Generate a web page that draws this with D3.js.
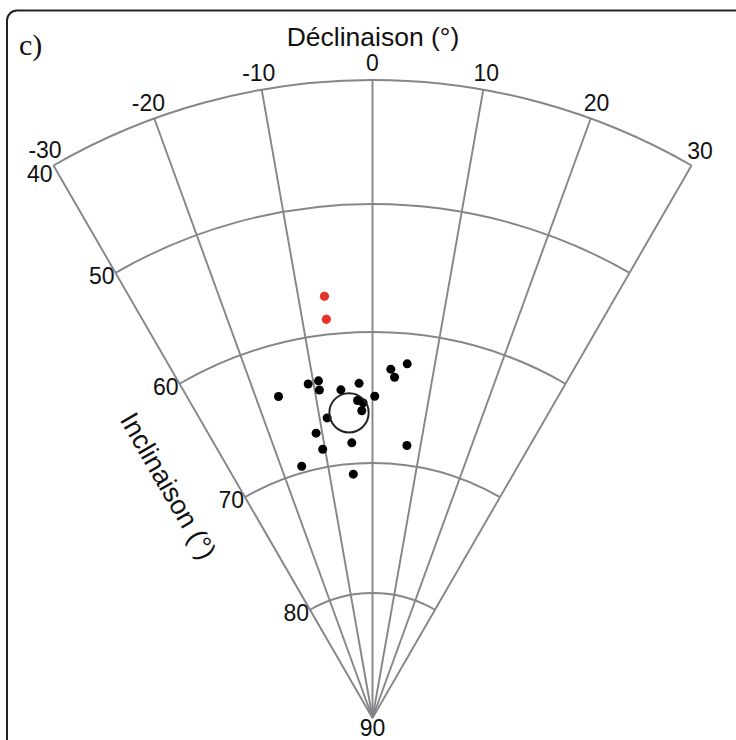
<!DOCTYPE html>
<html>
<head>
<meta charset="utf-8">
<script src="https://cdn.jsdelivr.net/npm/d3@7"></script>
<style>
  html, body { margin: 0; padding: 0; background: #fff; }
  svg { display: block; }
  text { font-family: "Liberation Sans", Arial, sans-serif; fill: #111; }
</style>
</head>
<body>
<svg id="chart" width="736" height="740"></svg>
<script>
// ---- data ----
const declinationTicks = [-30, -20, -10, 0, 10, 20, 30];
const inclinationTicks = [40, 50, 60, 70, 80, 90];
const panelLabel = "c)";
const decTitle = "Déclinaison (°)";
const incTitle = "Inclinaison (°)";

// black points: declination, inclination
const blackDec = [-16.3, -10.9, -9.1, -9.2, -5.5, -2.3, 0.4, 3.0, 3.7, 5.6, -2.7, -1.7, -2.0, -8.6, -11.2, -10.5, -4.3, -15.7, -4.5, 7.2];
const blackInc = [63.9, 63.5, 63.4, 64.1, 64.3, 63.9, 64.9, 62.8, 63.4, 62.3, 65.2, 65.4, 66.0, 66.3, 67.3, 68.6, 68.4, 69.5, 70.8, 68.5];
// red points
const redDec = [-6.5, -6.6];
const redInc = [57.0, 58.8];
// mean direction and alpha95 cone
const meanDec = [-4.4];
const meanInc = [66.1];
const meanA95 = [1.5];

// ---- layout ----
const svg = d3.select("#chart");
const cx = 372.5, cy = 718;
const rScale = d3.scaleLinear()
  .domain([40, 50, 60, 70, 80, 90])
  .range([638, 514, 386, 255, 125, 0]);
const rad = d => d * Math.PI / 180;
const px = (dec, inc) => cx + rScale(inc) * Math.sin(rad(dec));
const py = (dec, inc) => cy - rScale(inc) * Math.cos(rad(dec));

const gridColor = "#85858a";
const decMin = d3.min(declinationTicks), decMax = d3.max(declinationTicks);
const incMin = d3.min(inclinationTicks);

// frame
svg.append("rect")
  .attr("x", 7).attr("y", 10.5)
  .attr("width", 760).attr("height", 760)
  .attr("rx", 10).attr("ry", 10)
  .attr("fill", "none").attr("stroke", "#222").attr("stroke-width", 2);

const g = svg.append("g");

// arcs
inclinationTicks.filter(i => i < 90).forEach(inc => {
  const r = rScale(inc);
  const p = d3.path();
  p.moveTo(px(decMin, inc), py(decMin, inc));
  p.arc(cx, cy, r, rad(decMin - 90), rad(decMax - 90), false);
  g.append("path").attr("d", p.toString())
    .attr("fill", "none").attr("stroke", gridColor).attr("stroke-width", 1.9);
});

// spokes
declinationTicks.forEach(dec => {
  g.append("line")
    .attr("x1", cx).attr("y1", cy)
    .attr("x2", px(dec, incMin)).attr("y2", py(dec, incMin))
    .attr("stroke", gridColor).attr("stroke-width", 1.9);
});

// declination tick labels
const labelR = rScale(incMin) + 17;
declinationTicks.forEach(dec => {
  g.append("text")
    .attr("x", cx + labelR * Math.sin(rad(dec)))
    .attr("y", cy - labelR * Math.cos(rad(dec)) - (dec === decMin ? 1 : 0))
    .attr("text-anchor", "middle")
    .attr("dominant-baseline", "central")
    .style("font-size", "23px")
    .text(dec);
});

// inclination tick labels along left spoke
inclinationTicks.forEach(inc => {
  if (inc === 90) {
    g.append("text")
      .attr("x", cx).attr("y", cy + 10)
      .attr("text-anchor", "middle").attr("dominant-baseline", "central")
      .style("font-size", "23px").text(inc);
  } else {
    g.append("text")
      .attr("x", px(decMin, inc) - 1)
      .attr("y", py(decMin, inc) + (inc === 40 ? 9 : 3))
      .attr("text-anchor", "end").attr("dominant-baseline", "central")
      .style("font-size", "23px").text(inc);
  }
});

// titles
svg.append("text")
  .attr("x", 373).attr("y", 37)
  .attr("text-anchor", "middle").attr("dominant-baseline", "central")
  .style("font-size", "26.5px").text(decTitle);

svg.append("text")
  .attr("transform", "translate(168,486) rotate(60)")
  .attr("text-anchor", "middle").attr("dominant-baseline", "central")
  .style("font-size", "27px").text(incTitle);

svg.append("text")
  .attr("x", 19).attr("y", 55)
  .style("font-family", "'Liberation Serif', 'Times New Roman', serif")
  .style("font-size", "30px").text(panelLabel);

// points
const black = blackDec.map((d, i) => ({dec: d, inc: blackInc[i]}));
const red = redDec.map((d, i) => ({dec: d, inc: redInc[i]}));

g.selectAll("circle.black").data(black).enter().append("circle")
  .attr("class", "black")
  .attr("cx", d => px(d.dec, d.inc)).attr("cy", d => py(d.dec, d.inc))
  .attr("r", 4.5).attr("fill", "#000");

g.selectAll("circle.red").data(red).enter().append("circle")
  .attr("class", "red")
  .attr("cx", d => px(d.dec, d.inc)).attr("cy", d => py(d.dec, d.inc))
  .attr("r", 4.6).attr("fill", "#e8332b");

// alpha95 circle
meanDec.forEach((d, i) => {
  const inc = meanInc[i];
  const rr = Math.abs(rScale(inc - meanA95[i]) - rScale(inc));
  g.append("circle")
    .attr("cx", px(d, inc)).attr("cy", py(d, inc))
    .attr("r", rr).attr("fill", "none")
    .attr("stroke", "#222").attr("stroke-width", 2);
});
</script>
</body>
</html>
